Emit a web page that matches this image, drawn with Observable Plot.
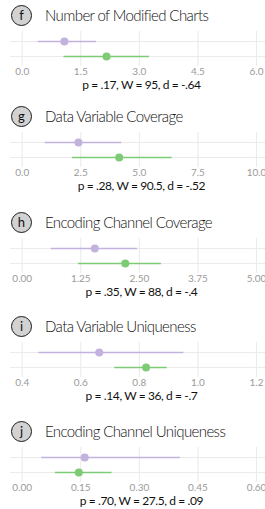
<!DOCTYPE html>
<html>
<head>
<meta charset="utf-8">
<script src="https://cdn.jsdelivr.net/npm/d3@7"></script>
<script src="https://cdn.jsdelivr.net/npm/@observablehq/plot@0.6"></script>
<style>
  html, body { margin: 0; padding: 0; background: #fff; overflow: hidden; }
  #root { position: relative; width: 265px; height: 509px; font-family: Lato, "Open Sans", sans-serif; }
  .panel { position: absolute; left: 0; width: 265px; height: 90px; }
  .badge { position: absolute; left: 11px; width: 19px; height: 19px; border: 1.2px solid #1a1a1a; border-radius: 50%;
           background: #d2d2d2; color: #111; font-size: 13px; line-height: 18px; text-align: center; }
  .title { position: absolute; left: 45px; font-size: 15px; font-weight: 300; color: #111; letter-spacing: -0.6px; white-space: nowrap; line-height: 18px; }
  .plot { position: absolute; left: 0; }
  .stats { position: absolute; left: 0; width: 283px; text-align: center; font-size: 12px; color: #111; letter-spacing: -0.4px; white-space: nowrap; line-height: 11px; }
</style>
</head>
<body>
<div id="root"></div>
<script>
// ---- data ----
const panelLetters = ["f", "g", "h", "i", "j"];
const panelTitles = [
  "Number of Modified Charts",
  "Data Variable Coverage",
  "Encoding Channel Coverage",
  "Data Variable Uniqueness",
  "Encoding Channel Uniqueness"
];
const statTexts = [
  "p = .17, W = 95, d = -.64",
  "p = .28, W = 90.5, d = -.52",
  "p = .35, W = 88, d = -.4",
  "p = .14, W = 36, d = -.7",
  "p = .70, W = 27.5, d = .09"
];
const tickValues = [
  [0, 1.5, 3, 4.5, 6],
  [0, 2.5, 5, 7.5, 10],
  [0, 1.25, 2.5, 3.75, 5],
  [0.4, 0.6, 0.8, 1.0, 1.2],
  [0, 0.15, 0.3, 0.45, 0.6]
];
const tickFormats = [".1f", ".1f", ".2f", ".1f", ".2f"];
const groups = ["purple", "green"];
const purpleMean = [1.08, 2.40, 1.55, 0.663, 0.16];
const purpleLow  = [0.41, 0.98, 0.62, 0.457, 0.05];
const purpleHigh = [1.90, 4.25, 2.46, 0.952, 0.405];
const greenMean  = [2.16, 4.14, 2.20, 0.823, 0.145];
const greenLow   = [1.07, 2.15, 1.20, 0.716, 0.085];
const greenHigh  = [3.26, 6.40, 2.97, 0.895, 0.23];

// ---- layout / style ----
const titleCenters = [15, 116, 222.5, 326, 431.5];
const colors = {purple: "#c3b2dd", green: "#7dcb74"};
const gridColor = "#ebebeb";

const root = document.getElementById("root");

panelLetters.forEach((letter, i) => {
  const T = titleCenters[i];
  const panel = document.createElement("div");
  panel.className = "panel";
  panel.style.top = (T - 15) + "px";
  root.appendChild(panel);

  const badge = document.createElement("div");
  badge.className = "badge";
  badge.style.top = (15 - 10.5) + "px";
  badge.textContent = letter;
  panel.appendChild(badge);

  const title = document.createElement("div");
  title.className = "title";
  title.style.top = (15 - 9.5) + "px";
  title.textContent = panelTitles[i];
  panel.appendChild(title);

  const ticks = tickValues[i];
  const t0 = ticks[0], t4 = ticks[ticks.length - 1];
  const span = t4 - t0;
  const domain = [t0 - (11.7 / 234.3) * span, t4 + (9 / 234.3) * span];

  const data = [
    {group: "purple", mean: purpleMean[i], lo: purpleLow[i], hi: purpleHigh[i]},
    {group: "green", mean: greenMean[i], lo: greenLow[i], hi: greenHigh[i]}
  ];

  const chart = Plot.plot({
    width: 265,
    height: 46,
    marginLeft: 10,
    marginRight: 0,
    marginTop: 0,
    marginBottom: 11,
    style: {background: "transparent", fontFamily: "Lato, sans-serif", fontSize: "10px", overflow: "visible"},
    x: {domain, ticks, tickFormat: d3.format(tickFormats[i]), label: null},
    y: {type: "point", domain: groups, padding: 0.6, axis: null},
    marks: [
      Plot.ruleX(ticks, {stroke: gridColor, strokeWidth: 1.1}),
      Plot.ruleY(groups, {stroke: gridColor, strokeWidth: 1.1}),
      Plot.axisX({ticks, tickSize: 0, tickPadding: 1.5, tickFormat: d3.format(tickFormats[i]), color: "#9a9a9a", label: null, fontSize: 10}),
      Plot.ruleY(data, {y: "group", x1: "lo", x2: "hi", stroke: d => colors[d.group], strokeWidth: 1.6}),
      Plot.dot(data, {x: "mean", y: "group", r: 4, fill: d => colors[d.group], stroke: "none"})
    ]
  });
  chart.classList.add("plot");
  chart.style.top = (15 + 15.5) + "px";
  panel.appendChild(chart);

  const stats = document.createElement("div");
  stats.className = "stats";
  stats.style.top = (15 + 63.5) + "px";
  stats.textContent = statTexts[i];
  panel.appendChild(stats);
});
</script>
</body>
</html>
